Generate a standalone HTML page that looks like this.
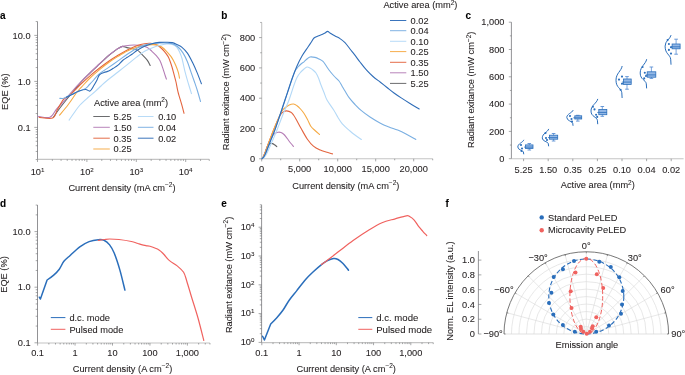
<!DOCTYPE html>
<html><head><meta charset="utf-8"><style>
html,body{margin:0;padding:0;background:#fff;overflow:hidden;}
svg{display:block;will-change:transform;}
text{font-family:"Liberation Sans",sans-serif;stroke:#231f20;stroke-width:0.08px;}
</style></head><body>
<svg width="685" height="375" viewBox="0 0 685 375">
<rect width="685" height="375" fill="#fff"/>
<text x="0.00" y="18.60" font-size="10" text-anchor="start" font-weight="bold" fill="#000" >a</text>
<line x1="37.50" y1="21.55" x2="37.50" y2="159.40" stroke="#6d6e71" stroke-width="0.75" />
<line x1="37.50" y1="159.40" x2="209.27" y2="159.40" stroke="#c4c4c4" stroke-width="1.1" />
<line x1="35.70" y1="159.55" x2="37.50" y2="159.55" stroke="#6d6e71" stroke-width="0.6" />
<line x1="35.70" y1="151.45" x2="37.50" y2="151.45" stroke="#6d6e71" stroke-width="0.6" />
<line x1="35.70" y1="145.71" x2="37.50" y2="145.71" stroke="#6d6e71" stroke-width="0.6" />
<line x1="35.70" y1="141.25" x2="37.50" y2="141.25" stroke="#6d6e71" stroke-width="0.6" />
<line x1="35.70" y1="137.61" x2="37.50" y2="137.61" stroke="#6d6e71" stroke-width="0.6" />
<line x1="35.70" y1="134.53" x2="37.50" y2="134.53" stroke="#6d6e71" stroke-width="0.6" />
<line x1="35.70" y1="131.86" x2="37.50" y2="131.86" stroke="#6d6e71" stroke-width="0.6" />
<line x1="35.70" y1="129.50" x2="37.50" y2="129.50" stroke="#6d6e71" stroke-width="0.6" />
<line x1="34.30" y1="127.40" x2="37.50" y2="127.40" stroke="#6d6e71" stroke-width="0.6" />
<line x1="35.70" y1="113.55" x2="37.50" y2="113.55" stroke="#6d6e71" stroke-width="0.6" />
<line x1="35.70" y1="105.45" x2="37.50" y2="105.45" stroke="#6d6e71" stroke-width="0.6" />
<line x1="35.70" y1="99.71" x2="37.50" y2="99.71" stroke="#6d6e71" stroke-width="0.6" />
<line x1="35.70" y1="95.25" x2="37.50" y2="95.25" stroke="#6d6e71" stroke-width="0.6" />
<line x1="35.70" y1="91.61" x2="37.50" y2="91.61" stroke="#6d6e71" stroke-width="0.6" />
<line x1="35.70" y1="88.53" x2="37.50" y2="88.53" stroke="#6d6e71" stroke-width="0.6" />
<line x1="35.70" y1="85.86" x2="37.50" y2="85.86" stroke="#6d6e71" stroke-width="0.6" />
<line x1="35.70" y1="83.50" x2="37.50" y2="83.50" stroke="#6d6e71" stroke-width="0.6" />
<line x1="34.30" y1="81.40" x2="37.50" y2="81.40" stroke="#6d6e71" stroke-width="0.6" />
<line x1="35.70" y1="67.55" x2="37.50" y2="67.55" stroke="#6d6e71" stroke-width="0.6" />
<line x1="35.70" y1="59.45" x2="37.50" y2="59.45" stroke="#6d6e71" stroke-width="0.6" />
<line x1="35.70" y1="53.71" x2="37.50" y2="53.71" stroke="#6d6e71" stroke-width="0.6" />
<line x1="35.70" y1="49.25" x2="37.50" y2="49.25" stroke="#6d6e71" stroke-width="0.6" />
<line x1="35.70" y1="45.61" x2="37.50" y2="45.61" stroke="#6d6e71" stroke-width="0.6" />
<line x1="35.70" y1="42.53" x2="37.50" y2="42.53" stroke="#6d6e71" stroke-width="0.6" />
<line x1="35.70" y1="39.86" x2="37.50" y2="39.86" stroke="#6d6e71" stroke-width="0.6" />
<line x1="35.70" y1="37.50" x2="37.50" y2="37.50" stroke="#6d6e71" stroke-width="0.6" />
<line x1="34.30" y1="35.40" x2="37.50" y2="35.40" stroke="#6d6e71" stroke-width="0.6" />
<line x1="35.70" y1="21.55" x2="37.50" y2="21.55" stroke="#6d6e71" stroke-width="0.6" />
<line x1="37.50" y1="159.40" x2="37.50" y2="162.00" stroke="#6d6e71" stroke-width="0.6" />
<line x1="52.37" y1="159.40" x2="52.37" y2="160.90" stroke="#6d6e71" stroke-width="0.6" />
<line x1="61.07" y1="159.40" x2="61.07" y2="160.90" stroke="#6d6e71" stroke-width="0.6" />
<line x1="67.24" y1="159.40" x2="67.24" y2="160.90" stroke="#6d6e71" stroke-width="0.6" />
<line x1="72.03" y1="159.40" x2="72.03" y2="160.90" stroke="#6d6e71" stroke-width="0.6" />
<line x1="75.94" y1="159.40" x2="75.94" y2="160.90" stroke="#6d6e71" stroke-width="0.6" />
<line x1="79.25" y1="159.40" x2="79.25" y2="160.90" stroke="#6d6e71" stroke-width="0.6" />
<line x1="82.11" y1="159.40" x2="82.11" y2="160.90" stroke="#6d6e71" stroke-width="0.6" />
<line x1="84.64" y1="159.40" x2="84.64" y2="160.90" stroke="#6d6e71" stroke-width="0.6" />
<line x1="86.90" y1="159.40" x2="86.90" y2="162.00" stroke="#6d6e71" stroke-width="0.6" />
<line x1="101.77" y1="159.40" x2="101.77" y2="160.90" stroke="#6d6e71" stroke-width="0.6" />
<line x1="110.47" y1="159.40" x2="110.47" y2="160.90" stroke="#6d6e71" stroke-width="0.6" />
<line x1="116.64" y1="159.40" x2="116.64" y2="160.90" stroke="#6d6e71" stroke-width="0.6" />
<line x1="121.43" y1="159.40" x2="121.43" y2="160.90" stroke="#6d6e71" stroke-width="0.6" />
<line x1="125.34" y1="159.40" x2="125.34" y2="160.90" stroke="#6d6e71" stroke-width="0.6" />
<line x1="128.65" y1="159.40" x2="128.65" y2="160.90" stroke="#6d6e71" stroke-width="0.6" />
<line x1="131.51" y1="159.40" x2="131.51" y2="160.90" stroke="#6d6e71" stroke-width="0.6" />
<line x1="134.04" y1="159.40" x2="134.04" y2="160.90" stroke="#6d6e71" stroke-width="0.6" />
<line x1="136.30" y1="159.40" x2="136.30" y2="162.00" stroke="#6d6e71" stroke-width="0.6" />
<line x1="151.17" y1="159.40" x2="151.17" y2="160.90" stroke="#6d6e71" stroke-width="0.6" />
<line x1="159.87" y1="159.40" x2="159.87" y2="160.90" stroke="#6d6e71" stroke-width="0.6" />
<line x1="166.04" y1="159.40" x2="166.04" y2="160.90" stroke="#6d6e71" stroke-width="0.6" />
<line x1="170.83" y1="159.40" x2="170.83" y2="160.90" stroke="#6d6e71" stroke-width="0.6" />
<line x1="174.74" y1="159.40" x2="174.74" y2="160.90" stroke="#6d6e71" stroke-width="0.6" />
<line x1="178.05" y1="159.40" x2="178.05" y2="160.90" stroke="#6d6e71" stroke-width="0.6" />
<line x1="180.91" y1="159.40" x2="180.91" y2="160.90" stroke="#6d6e71" stroke-width="0.6" />
<line x1="183.44" y1="159.40" x2="183.44" y2="160.90" stroke="#6d6e71" stroke-width="0.6" />
<line x1="185.70" y1="159.40" x2="185.70" y2="162.00" stroke="#6d6e71" stroke-width="0.6" />
<line x1="200.57" y1="159.40" x2="200.57" y2="160.90" stroke="#6d6e71" stroke-width="0.6" />
<line x1="209.27" y1="159.40" x2="209.27" y2="160.90" stroke="#6d6e71" stroke-width="0.6" />
<text x="30.60" y="38.60" font-size="9.25" text-anchor="end" font-weight="normal" fill="#231f20" >10.0</text>
<text x="30.60" y="84.60" font-size="9.25" text-anchor="end" font-weight="normal" fill="#231f20" >1.0</text>
<text x="30.60" y="130.60" font-size="9.25" text-anchor="end" font-weight="normal" fill="#231f20" >0.1</text>
<text x="37.50" y="174.60" font-size="9.25" text-anchor="middle" font-weight="normal" fill="#231f20" >10<tspan dy="-3.1" font-size="6.2">1</tspan></text>
<text x="86.90" y="174.60" font-size="9.25" text-anchor="middle" font-weight="normal" fill="#231f20" >10<tspan dy="-3.1" font-size="6.2">2</tspan></text>
<text x="136.30" y="174.60" font-size="9.25" text-anchor="middle" font-weight="normal" fill="#231f20" >10<tspan dy="-3.1" font-size="6.2">3</tspan></text>
<text x="185.70" y="174.60" font-size="9.25" text-anchor="middle" font-weight="normal" fill="#231f20" >10<tspan dy="-3.1" font-size="6.2">4</tspan></text>
<text x="0.00" y="0.00" font-size="9.25" text-anchor="middle" font-weight="normal" fill="#231f20" transform="translate(7.7,91.7) rotate(-90)">EQE (%)</text>
<text x="122.00" y="190.50" font-size="9.25" text-anchor="middle" font-weight="normal" fill="#231f20" >Current density (mA cm<tspan dy="-3.6" font-size="6.5">&#8722;2</tspan><tspan dy="3.6">)</tspan></text>
<path d="M53.20,117.50 C53.83,116.58 55.37,114.25 57.00,112.00 C58.63,109.75 60.17,107.58 63.00,104.00 C65.83,100.42 70.83,94.33 74.00,90.50 C77.17,86.67 79.33,83.92 82.00,81.00 C84.67,78.08 87.12,75.80 90.00,73.00 C92.88,70.20 96.97,66.40 99.30,64.20 C101.63,62.00 102.43,61.25 104.00,59.80 C105.57,58.35 106.98,56.93 108.70,55.50 C110.42,54.07 112.75,52.35 114.30,51.20 C115.85,50.05 116.65,49.40 118.00,48.60 C119.35,47.80 120.90,46.57 122.40,46.40 C123.90,46.23 125.25,47.20 127.00,47.60 C128.75,48.00 131.07,48.30 132.90,48.80 C134.73,49.30 136.53,49.70 138.00,50.60 C139.47,51.50 140.17,52.62 141.70,54.20 C143.23,55.78 145.78,58.23 147.20,60.10 C148.62,61.97 149.70,64.52 150.20,65.40" fill="none" stroke="#636466" stroke-width="1.1" stroke-linejoin="round" stroke-linecap="round" />
<path d="M37.80,116.30 C39.82,116.47 46.78,118.50 49.90,117.30 C53.02,116.10 54.32,111.63 56.50,109.10 C58.68,106.57 60.42,105.03 63.00,102.10 C65.58,99.17 68.83,95.07 72.00,91.50 C75.17,87.93 79.00,83.82 82.00,80.70 C85.00,77.58 87.12,75.58 90.00,72.80 C92.88,70.02 96.97,66.20 99.30,64.00 C101.63,61.80 102.43,61.05 104.00,59.60 C105.57,58.15 106.98,56.72 108.70,55.30 C110.42,53.88 112.75,52.22 114.30,51.10 C115.85,49.98 116.62,49.38 118.00,48.60 C119.38,47.82 120.62,46.97 122.60,46.40 C124.58,45.83 127.27,45.38 129.90,45.20 C132.53,45.02 135.58,44.95 138.40,45.30 C141.22,45.65 144.55,46.30 146.80,47.30 C149.05,48.30 150.32,49.90 151.90,51.30 C153.48,52.70 154.97,54.17 156.30,55.70 C157.63,57.23 158.82,58.43 159.90,60.50 C160.98,62.57 161.95,65.68 162.80,68.10 C163.65,70.52 164.40,73.17 165.00,75.00 C165.60,76.83 166.17,78.42 166.40,79.10" fill="none" stroke="#b57db6" stroke-width="1.1" stroke-linejoin="round" stroke-linecap="round" />
<path d="M39.20,117.40 C41.45,117.50 49.67,119.30 52.70,118.00 C55.73,116.70 55.60,112.72 57.40,109.60 C59.20,106.48 61.63,101.55 63.50,99.30 C65.37,97.05 66.82,97.50 68.60,96.10 C70.38,94.70 71.97,93.08 74.20,90.90 C76.43,88.72 79.37,85.52 82.00,83.00 C84.63,80.48 87.12,78.25 90.00,75.80 C92.88,73.35 96.18,70.72 99.30,68.30 C102.42,65.88 105.58,63.47 108.70,61.30 C111.82,59.13 114.90,57.20 118.00,55.30 C121.10,53.40 124.08,51.53 127.30,49.90 C130.52,48.27 134.42,46.53 137.30,45.50 C140.18,44.47 142.42,44.07 144.60,43.70 C146.78,43.33 148.45,43.12 150.40,43.30 C152.35,43.48 154.72,44.18 156.30,44.80 C157.88,45.42 158.57,45.92 159.90,47.00 C161.23,48.08 162.95,49.73 164.30,51.30 C165.65,52.87 167.08,54.87 168.00,56.40 C168.92,57.93 169.13,58.73 169.80,60.50 C170.47,62.27 171.38,65.02 172.00,67.00 C172.62,68.98 172.83,69.90 173.50,72.40 C174.17,74.90 175.25,78.77 176.00,82.00 C176.75,85.23 177.03,87.98 178.00,91.80 C178.97,95.62 180.80,101.32 181.80,104.90 C182.80,108.48 183.63,111.90 184.00,113.30" fill="none" stroke="#e3653f" stroke-width="1.1" stroke-linejoin="round" stroke-linecap="round" />
<path d="M59.50,115.20 C60.97,113.42 65.38,108.37 68.30,104.50 C71.22,100.63 74.77,94.95 77.00,92.00 C79.23,89.05 79.53,89.13 81.70,86.80 C83.87,84.47 87.07,80.83 90.00,78.00 C92.93,75.17 96.18,72.38 99.30,69.80 C102.42,67.22 105.58,64.73 108.70,62.50 C111.82,60.27 114.90,58.32 118.00,56.40 C121.10,54.48 124.20,52.52 127.30,51.00 C130.40,49.48 133.72,48.22 136.60,47.30 C139.48,46.38 142.05,45.95 144.60,45.50 C147.15,45.05 149.72,44.67 151.90,44.60 C154.08,44.53 156.00,44.65 157.70,45.10 C159.40,45.55 160.63,46.27 162.10,47.30 C163.57,48.33 165.03,49.78 166.50,51.30 C167.97,52.82 169.75,54.87 170.90,56.40 C172.05,57.93 172.55,58.90 173.40,60.50 C174.25,62.10 175.18,64.02 176.00,66.00 C176.82,67.98 177.72,70.38 178.30,72.40 C178.88,74.42 179.30,77.15 179.50,78.10" fill="none" stroke="#f5aa45" stroke-width="1.1" stroke-linejoin="round" stroke-linecap="round" />
<path d="M69.10,120.10 C69.92,118.92 72.18,115.52 74.00,113.00 C75.82,110.48 77.67,107.58 80.00,105.00 C82.33,102.42 85.50,99.72 88.00,97.50 C90.50,95.28 92.83,93.62 95.00,91.70 C97.17,89.78 98.88,87.95 101.00,86.00 C103.12,84.05 104.87,82.33 107.70,80.00 C110.53,77.67 114.73,74.57 118.00,72.00 C121.27,69.43 124.20,67.08 127.30,64.60 C130.40,62.12 133.72,59.32 136.60,57.10 C139.48,54.88 142.05,52.82 144.60,51.30 C147.15,49.78 149.47,48.97 151.90,48.00 C154.33,47.03 156.77,46.17 159.20,45.50 C161.63,44.83 164.32,44.18 166.50,44.00 C168.68,43.82 170.60,43.90 172.30,44.40 C174.00,44.90 175.48,45.72 176.70,47.00 C177.92,48.28 178.72,50.18 179.60,52.10 C180.48,54.02 181.07,55.12 182.00,58.50 C182.93,61.88 184.12,68.15 185.20,72.40 C186.28,76.65 187.45,80.47 188.50,84.00 C189.55,87.53 191.00,92.00 191.50,93.60" fill="none" stroke="#b4d9f7" stroke-width="1.1" stroke-linejoin="round" stroke-linecap="round" />
<path d="M59.70,98.30 C60.38,98.30 62.08,98.85 63.80,98.30 C65.52,97.75 67.47,96.18 70.00,95.00 C72.53,93.82 76.38,92.30 79.00,91.20 C81.62,90.10 83.95,89.52 85.70,88.40 C87.45,87.28 88.17,85.90 89.50,84.50 C90.83,83.10 92.07,81.77 93.70,80.00 C95.33,78.23 96.80,76.00 99.30,73.90 C101.80,71.80 105.58,69.57 108.70,67.40 C111.82,65.23 114.90,63.08 118.00,60.90 C121.10,58.72 124.08,56.45 127.30,54.30 C130.52,52.15 134.42,49.53 137.30,48.00 C140.18,46.47 142.17,45.85 144.60,45.10 C147.03,44.35 149.00,43.85 151.90,43.50 C154.80,43.15 158.75,43.00 162.00,43.00 C165.25,43.00 168.77,42.88 171.40,43.50 C174.03,44.12 175.85,45.10 177.80,46.70 C179.75,48.30 181.50,50.60 183.10,53.10 C184.70,55.60 186.07,58.48 187.40,61.70 C188.73,64.92 189.92,69.02 191.10,72.40 C192.28,75.78 193.43,78.90 194.50,82.00 C195.57,85.10 196.50,87.75 197.50,91.00 C198.50,94.25 200.00,99.75 200.50,101.50" fill="none" stroke="#7aafe2" stroke-width="1.1" stroke-linejoin="round" stroke-linecap="round" />
<path d="M66.50,97.30 C67.42,96.83 69.92,95.55 72.00,94.50 C74.08,93.45 76.72,91.83 79.00,91.00 C81.28,90.17 83.87,89.50 85.70,89.50 C87.53,89.50 88.67,91.62 90.00,91.00 C91.33,90.38 92.53,87.63 93.70,85.80 C94.87,83.97 96.07,81.80 97.00,80.00 C97.93,78.20 98.13,76.25 99.30,75.00 C100.47,73.75 102.43,73.15 104.00,72.50 C105.57,71.85 107.15,71.80 108.70,71.10 C110.25,70.40 111.75,69.30 113.30,68.30 C114.85,67.30 116.45,66.40 118.00,65.10 C119.55,63.80 121.05,61.80 122.60,60.50 C124.15,59.20 125.73,58.33 127.30,57.30 C128.87,56.27 130.33,55.48 132.00,54.30 C133.67,53.12 135.20,51.55 137.30,50.20 C139.40,48.85 142.17,47.28 144.60,46.20 C147.03,45.12 149.47,44.33 151.90,43.70 C154.33,43.07 156.77,42.65 159.20,42.40 C161.63,42.15 164.32,42.17 166.50,42.20 C168.68,42.23 170.48,42.17 172.30,42.60 C174.12,43.03 175.78,44.02 177.40,44.80 C179.02,45.58 180.33,45.92 182.00,47.30 C183.67,48.68 185.62,50.52 187.40,53.10 C189.18,55.68 191.10,59.58 192.70,62.80 C194.30,66.02 195.55,68.92 197.00,72.40 C198.45,75.88 200.67,81.82 201.40,83.70" fill="none" stroke="#2f6db8" stroke-width="1.1" stroke-linejoin="round" stroke-linecap="round" />
<text x="94.00" y="106.00" font-size="9.25" text-anchor="start" font-weight="normal" fill="#231f20" >Active area (mm<tspan dy="-3.6" font-size="6.5">2</tspan><tspan dy="3.6">)</tspan></text>
<line x1="93.30" y1="116.50" x2="109.80" y2="116.50" stroke="#636466" stroke-width="0.95" />
<text x="113.60" y="119.80" font-size="9.25" text-anchor="start" font-weight="normal" fill="#231f20" >5.25</text>
<line x1="93.30" y1="127.30" x2="109.80" y2="127.30" stroke="#b57db6" stroke-width="0.95" />
<text x="113.60" y="130.60" font-size="9.25" text-anchor="start" font-weight="normal" fill="#231f20" >1.50</text>
<line x1="93.30" y1="138.20" x2="109.80" y2="138.20" stroke="#e3653f" stroke-width="0.95" />
<text x="113.60" y="141.50" font-size="9.25" text-anchor="start" font-weight="normal" fill="#231f20" >0.35</text>
<line x1="93.30" y1="149.00" x2="109.80" y2="149.00" stroke="#f5aa45" stroke-width="0.95" />
<text x="113.60" y="152.30" font-size="9.25" text-anchor="start" font-weight="normal" fill="#231f20" >0.25</text>
<line x1="137.90" y1="116.50" x2="153.50" y2="116.50" stroke="#b4d9f7" stroke-width="0.95" />
<text x="158.20" y="119.80" font-size="9.25" text-anchor="start" font-weight="normal" fill="#231f20" >0.10</text>
<line x1="137.90" y1="127.30" x2="153.50" y2="127.30" stroke="#7aafe2" stroke-width="0.95" />
<text x="158.20" y="130.60" font-size="9.25" text-anchor="start" font-weight="normal" fill="#231f20" >0.04</text>
<line x1="137.90" y1="138.20" x2="153.50" y2="138.20" stroke="#2f6db8" stroke-width="0.95" />
<text x="158.20" y="141.50" font-size="9.25" text-anchor="start" font-weight="normal" fill="#231f20" >0.02</text>
<text x="221.30" y="19.00" font-size="10" text-anchor="start" font-weight="bold" fill="#000" >b</text>
<line x1="261.70" y1="22.45" x2="261.70" y2="158.80" stroke="#c4c4c4" stroke-width="1.1" />
<line x1="261.70" y1="158.80" x2="432.70" y2="158.80" stroke="#c4c4c4" stroke-width="1.1" />
<line x1="259.10" y1="158.80" x2="261.70" y2="158.80" stroke="#6d6e71" stroke-width="0.6" />
<line x1="260.20" y1="143.65" x2="261.70" y2="143.65" stroke="#6d6e71" stroke-width="0.6" />
<line x1="259.10" y1="128.50" x2="261.70" y2="128.50" stroke="#6d6e71" stroke-width="0.6" />
<line x1="260.20" y1="113.35" x2="261.70" y2="113.35" stroke="#6d6e71" stroke-width="0.6" />
<line x1="259.10" y1="98.20" x2="261.70" y2="98.20" stroke="#6d6e71" stroke-width="0.6" />
<line x1="260.20" y1="83.05" x2="261.70" y2="83.05" stroke="#6d6e71" stroke-width="0.6" />
<line x1="259.10" y1="67.90" x2="261.70" y2="67.90" stroke="#6d6e71" stroke-width="0.6" />
<line x1="260.20" y1="52.75" x2="261.70" y2="52.75" stroke="#6d6e71" stroke-width="0.6" />
<line x1="259.10" y1="37.60" x2="261.70" y2="37.60" stroke="#6d6e71" stroke-width="0.6" />
<line x1="260.20" y1="22.45" x2="261.70" y2="22.45" stroke="#6d6e71" stroke-width="0.6" />
<line x1="261.70" y1="158.80" x2="261.70" y2="161.40" stroke="#6d6e71" stroke-width="0.6" />
<line x1="280.70" y1="158.80" x2="280.70" y2="160.30" stroke="#6d6e71" stroke-width="0.6" />
<line x1="299.70" y1="158.80" x2="299.70" y2="161.40" stroke="#6d6e71" stroke-width="0.6" />
<line x1="318.70" y1="158.80" x2="318.70" y2="160.30" stroke="#6d6e71" stroke-width="0.6" />
<line x1="337.70" y1="158.80" x2="337.70" y2="161.40" stroke="#6d6e71" stroke-width="0.6" />
<line x1="356.70" y1="158.80" x2="356.70" y2="160.30" stroke="#6d6e71" stroke-width="0.6" />
<line x1="375.70" y1="158.80" x2="375.70" y2="161.40" stroke="#6d6e71" stroke-width="0.6" />
<line x1="394.70" y1="158.80" x2="394.70" y2="160.30" stroke="#6d6e71" stroke-width="0.6" />
<line x1="413.70" y1="158.80" x2="413.70" y2="161.40" stroke="#6d6e71" stroke-width="0.6" />
<line x1="432.70" y1="158.80" x2="432.70" y2="160.30" stroke="#6d6e71" stroke-width="0.6" />
<text x="255.20" y="162.00" font-size="9.25" text-anchor="end" font-weight="normal" fill="#231f20" >0</text>
<text x="255.20" y="131.70" font-size="9.25" text-anchor="end" font-weight="normal" fill="#231f20" >200</text>
<text x="255.20" y="101.40" font-size="9.25" text-anchor="end" font-weight="normal" fill="#231f20" >400</text>
<text x="255.20" y="71.10" font-size="9.25" text-anchor="end" font-weight="normal" fill="#231f20" >600</text>
<text x="255.20" y="40.80" font-size="9.25" text-anchor="end" font-weight="normal" fill="#231f20" >800</text>
<text x="261.70" y="172.30" font-size="9.25" text-anchor="middle" font-weight="normal" fill="#231f20" >0</text>
<text x="299.70" y="172.30" font-size="9.25" text-anchor="middle" font-weight="normal" fill="#231f20" >5,000</text>
<text x="337.70" y="172.30" font-size="9.25" text-anchor="middle" font-weight="normal" fill="#231f20" >10,000</text>
<text x="375.70" y="172.30" font-size="9.25" text-anchor="middle" font-weight="normal" fill="#231f20" >15,000</text>
<text x="413.70" y="172.30" font-size="9.25" text-anchor="middle" font-weight="normal" fill="#231f20" >20,000</text>
<text x="0.00" y="0.00" font-size="9.25" text-anchor="middle" font-weight="normal" fill="#231f20" transform="translate(229.3,92.1) rotate(-90)">Radiant exitance (mW cm<tspan dy="-3.6" font-size="6.5">&#8722;2</tspan><tspan dy="3.6">)</tspan></text>
<text x="345.80" y="188.50" font-size="9.25" text-anchor="middle" font-weight="normal" fill="#231f20" >Current density (mA cm<tspan dy="-3.6" font-size="6.5">&#8722;2</tspan><tspan dy="3.6">)</tspan></text>
<path d="M261.90,158.70 C262.13,158.42 262.78,157.95 263.30,157.00 C263.82,156.05 264.38,154.58 265.00,153.00 C265.62,151.42 266.37,148.87 267.00,147.50 C267.63,146.13 268.22,145.45 268.80,144.80 C269.38,144.15 269.88,143.80 270.50,143.60 C271.12,143.40 271.83,143.40 272.50,143.60 C273.17,143.80 273.78,144.30 274.50,144.80 C275.22,145.30 276.42,146.30 276.80,146.60" fill="none" stroke="#636466" stroke-width="1.1" stroke-linejoin="round" stroke-linecap="round" />
<path d="M261.90,158.70 C262.13,158.42 262.78,157.95 263.30,157.00 C263.82,156.05 264.30,154.83 265.00,153.00 C265.70,151.17 266.58,148.33 267.50,146.00 C268.42,143.67 269.58,140.83 270.50,139.00 C271.42,137.17 272.20,135.97 273.00,135.00 C273.80,134.03 274.40,133.67 275.30,133.20 C276.20,132.73 277.45,132.30 278.40,132.20 C279.35,132.10 280.07,132.22 281.00,132.60 C281.93,132.98 283.17,133.80 284.00,134.50 C284.83,135.20 285.28,135.88 286.00,136.80 C286.72,137.72 287.47,138.88 288.30,140.00 C289.13,141.12 290.13,142.43 291.00,143.50 C291.87,144.57 293.08,145.92 293.50,146.40" fill="none" stroke="#b57db6" stroke-width="1.1" stroke-linejoin="round" stroke-linecap="round" />
<path d="M261.90,158.70 C262.13,158.42 262.78,157.95 263.30,157.00 C263.82,156.05 264.30,154.83 265.00,153.00 C265.70,151.17 266.58,148.50 267.50,146.00 C268.42,143.50 269.42,140.83 270.50,138.00 C271.58,135.17 272.75,132.08 274.00,129.00 C275.25,125.92 276.83,122.00 278.00,119.50 C279.17,117.00 280.00,115.33 281.00,114.00 C282.00,112.67 283.07,112.02 284.00,111.50 C284.93,110.98 285.45,110.77 286.60,110.90 C287.75,111.03 289.75,111.62 290.90,112.30 C292.05,112.98 292.63,113.85 293.50,115.00 C294.37,116.15 294.80,116.90 296.10,119.20 C297.40,121.50 299.42,125.47 301.30,128.80 C303.18,132.13 305.38,136.32 307.40,139.20 C309.42,142.08 311.25,144.28 313.40,146.10 C315.55,147.92 318.20,149.12 320.30,150.10 C322.40,151.08 323.97,151.37 326.00,152.00 C328.03,152.63 331.42,153.58 332.50,153.90" fill="none" stroke="#e3653f" stroke-width="1.1" stroke-linejoin="round" stroke-linecap="round" />
<path d="M261.90,158.70 C262.13,158.42 262.78,157.95 263.30,157.00 C263.82,156.05 264.30,154.83 265.00,153.00 C265.70,151.17 266.58,148.50 267.50,146.00 C268.42,143.50 269.42,140.83 270.50,138.00 C271.58,135.17 272.75,132.08 274.00,129.00 C275.25,125.92 276.67,122.50 278.00,119.50 C279.33,116.50 280.87,112.92 282.00,111.00 C283.13,109.08 283.60,109.00 284.80,108.00 C286.00,107.00 287.75,105.67 289.20,105.00 C290.65,104.33 292.20,103.88 293.50,104.00 C294.80,104.12 295.83,104.87 297.00,105.70 C298.17,106.53 299.35,107.75 300.50,109.00 C301.65,110.25 302.73,111.45 303.90,113.20 C305.07,114.95 306.35,117.33 307.50,119.50 C308.65,121.67 309.55,124.37 310.80,126.20 C312.05,128.03 313.55,129.12 315.00,130.50 C316.45,131.88 318.75,133.83 319.50,134.50" fill="none" stroke="#f5aa45" stroke-width="1.1" stroke-linejoin="round" stroke-linecap="round" />
<path d="M261.90,158.70 C262.25,158.50 263.23,158.28 264.00,157.50 C264.77,156.72 265.58,155.67 266.50,154.00 C267.42,152.33 268.42,149.92 269.50,147.50 C270.58,145.08 271.75,142.42 273.00,139.50 C274.25,136.58 275.67,133.33 277.00,130.00 C278.33,126.67 279.67,122.92 281.00,119.50 C282.33,116.08 283.67,112.75 285.00,109.50 C286.33,106.25 287.50,104.08 289.00,100.00 C290.50,95.92 292.67,88.75 294.00,85.00 C295.33,81.25 296.00,79.50 297.00,77.50 C298.00,75.50 298.83,74.42 300.00,73.00 C301.17,71.58 302.83,70.00 304.00,69.00 C305.17,68.00 306.00,67.17 307.00,67.00 C308.00,66.83 309.00,67.50 310.00,68.00 C311.00,68.50 312.00,69.17 313.00,70.00 C314.00,70.83 315.08,71.67 316.00,73.00 C316.92,74.33 317.67,76.00 318.50,78.00 C319.33,80.00 320.08,82.58 321.00,85.00 C321.92,87.42 323.00,90.00 324.00,92.50 C325.00,95.00 325.38,97.08 327.00,100.00 C328.62,102.92 331.87,107.08 333.70,110.00 C335.53,112.92 336.57,115.18 338.00,117.50 C339.43,119.82 340.30,121.65 342.30,123.90 C344.30,126.15 347.88,129.15 350.00,131.00 C352.12,132.85 353.10,133.58 355.00,135.00 C356.90,136.42 360.33,138.75 361.40,139.50" fill="none" stroke="#b4d9f7" stroke-width="1.1" stroke-linejoin="round" stroke-linecap="round" />
<path d="M261.90,158.70 C262.17,158.47 262.90,158.15 263.50,157.30 C264.10,156.45 264.75,155.28 265.50,153.60 C266.25,151.92 267.08,149.53 268.00,147.20 C268.92,144.87 269.83,142.53 271.00,139.60 C272.17,136.67 273.50,133.70 275.00,129.60 C276.50,125.50 278.33,119.93 280.00,115.00 C281.67,110.07 283.58,104.25 285.00,100.00 C286.42,95.75 287.33,93.00 288.50,89.50 C289.67,86.00 290.92,82.08 292.00,79.00 C293.08,75.92 294.00,73.00 295.00,71.00 C296.00,69.00 297.00,68.17 298.00,67.00 C299.00,65.83 300.00,64.87 301.00,64.00 C302.00,63.13 303.00,62.63 304.00,61.80 C305.00,60.97 306.00,59.80 307.00,59.00 C308.00,58.20 308.67,57.27 310.00,57.00 C311.33,56.73 313.50,57.07 315.00,57.40 C316.50,57.73 317.67,58.33 319.00,59.00 C320.33,59.67 321.83,60.32 323.00,61.40 C324.17,62.48 325.00,64.07 326.00,65.50 C327.00,66.93 327.67,68.25 329.00,70.00 C330.33,71.75 332.33,74.17 334.00,76.00 C335.67,77.83 337.67,79.33 339.00,81.00 C340.33,82.67 341.00,84.33 342.00,86.00 C343.00,87.67 343.78,89.02 345.00,91.00 C346.22,92.98 347.63,95.65 349.30,97.90 C350.97,100.15 352.98,102.37 355.00,104.50 C357.02,106.63 358.90,108.62 361.40,110.70 C363.90,112.78 366.83,114.92 370.00,117.00 C373.17,119.08 377.23,121.53 380.40,123.20 C383.57,124.87 386.12,125.85 389.00,127.00 C391.88,128.15 394.87,128.93 397.70,130.10 C400.53,131.27 402.98,132.43 406.00,134.00 C409.02,135.57 414.17,138.58 415.80,139.50" fill="none" stroke="#7aafe2" stroke-width="1.1" stroke-linejoin="round" stroke-linecap="round" />
<path d="M261.90,158.70 C262.17,158.47 262.90,158.15 263.50,157.30 C264.10,156.45 264.75,155.28 265.50,153.60 C266.25,151.92 267.08,149.53 268.00,147.20 C268.92,144.87 269.83,142.53 271.00,139.60 C272.17,136.67 273.50,133.70 275.00,129.60 C276.50,125.50 278.33,119.93 280.00,115.00 C281.67,110.07 283.58,104.25 285.00,100.00 C286.42,95.75 287.33,93.00 288.50,89.50 C289.67,86.00 290.58,82.92 292.00,79.00 C293.42,75.08 295.33,69.83 297.00,66.00 C298.67,62.17 300.17,59.17 302.00,56.00 C303.83,52.83 306.50,49.25 308.00,47.00 C309.50,44.75 310.00,44.00 311.00,42.50 C312.00,41.00 312.83,39.08 314.00,38.00 C315.17,36.92 316.67,36.57 318.00,36.00 C319.33,35.43 320.83,35.10 322.00,34.60 C323.17,34.10 324.07,33.53 325.00,33.00 C325.93,32.47 326.77,31.40 327.60,31.40 C328.43,31.40 329.20,32.47 330.00,33.00 C330.80,33.53 331.40,34.02 332.40,34.60 C333.40,35.18 334.73,35.83 336.00,36.50 C337.27,37.17 338.50,37.58 340.00,38.60 C341.50,39.62 343.33,40.87 345.00,42.60 C346.67,44.33 348.42,47.00 350.00,49.00 C351.58,51.00 352.83,52.43 354.50,54.60 C356.17,56.77 357.98,59.40 360.00,62.00 C362.02,64.60 364.43,67.78 366.60,70.20 C368.77,72.62 370.70,74.48 373.00,76.50 C375.30,78.52 378.07,80.47 380.40,82.30 C382.73,84.13 384.73,85.72 387.00,87.50 C389.27,89.28 391.63,91.27 394.00,93.00 C396.37,94.73 398.53,96.15 401.20,97.90 C403.87,99.65 407.00,101.65 410.00,103.50 C413.00,105.35 417.67,108.08 419.20,109.00" fill="none" stroke="#2f6db8" stroke-width="1.1" stroke-linejoin="round" stroke-linecap="round" />
<text x="383.40" y="8.40" font-size="9.25" text-anchor="start" font-weight="normal" fill="#231f20" >Active area (mm<tspan dy="-3.6" font-size="6.5">2</tspan><tspan dy="3.6">)</tspan></text>
<line x1="390.00" y1="20.50" x2="406.30" y2="20.50" stroke="#2f6db8" stroke-width="0.95" />
<text x="410.60" y="23.80" font-size="9.25" text-anchor="start" font-weight="normal" fill="#231f20" >0.02</text>
<line x1="390.00" y1="30.70" x2="406.30" y2="30.70" stroke="#7aafe2" stroke-width="0.95" />
<text x="410.60" y="34.00" font-size="9.25" text-anchor="start" font-weight="normal" fill="#231f20" >0.04</text>
<line x1="390.00" y1="41.30" x2="406.30" y2="41.30" stroke="#b4d9f7" stroke-width="0.95" />
<text x="410.60" y="44.60" font-size="9.25" text-anchor="start" font-weight="normal" fill="#231f20" >0.10</text>
<line x1="390.00" y1="51.60" x2="406.30" y2="51.60" stroke="#f5aa45" stroke-width="0.95" />
<text x="410.60" y="54.90" font-size="9.25" text-anchor="start" font-weight="normal" fill="#231f20" >0.25</text>
<line x1="390.00" y1="62.30" x2="406.30" y2="62.30" stroke="#e3653f" stroke-width="0.95" />
<text x="410.60" y="65.60" font-size="9.25" text-anchor="start" font-weight="normal" fill="#231f20" >0.35</text>
<line x1="390.00" y1="72.80" x2="406.30" y2="72.80" stroke="#b57db6" stroke-width="0.95" />
<text x="410.60" y="76.10" font-size="9.25" text-anchor="start" font-weight="normal" fill="#231f20" >1.50</text>
<line x1="390.00" y1="83.40" x2="406.30" y2="83.40" stroke="#636466" stroke-width="0.95" />
<text x="410.60" y="86.70" font-size="9.25" text-anchor="start" font-weight="normal" fill="#231f20" >5.25</text>
<text x="465.60" y="18.60" font-size="10" text-anchor="start" font-weight="bold" fill="#000" >c</text>
<line x1="511.40" y1="22.20" x2="511.40" y2="158.80" stroke="#6d6e71" stroke-width="0.75" />
<line x1="511.40" y1="158.80" x2="683.60" y2="158.80" stroke="#c4c4c4" stroke-width="1.1" />
<line x1="508.80" y1="158.70" x2="511.40" y2="158.70" stroke="#6d6e71" stroke-width="0.6" />
<line x1="509.90" y1="145.05" x2="511.40" y2="145.05" stroke="#6d6e71" stroke-width="0.6" />
<line x1="508.80" y1="131.40" x2="511.40" y2="131.40" stroke="#6d6e71" stroke-width="0.6" />
<line x1="509.90" y1="117.75" x2="511.40" y2="117.75" stroke="#6d6e71" stroke-width="0.6" />
<line x1="508.80" y1="104.10" x2="511.40" y2="104.10" stroke="#6d6e71" stroke-width="0.6" />
<line x1="509.90" y1="90.45" x2="511.40" y2="90.45" stroke="#6d6e71" stroke-width="0.6" />
<line x1="508.80" y1="76.80" x2="511.40" y2="76.80" stroke="#6d6e71" stroke-width="0.6" />
<line x1="509.90" y1="63.15" x2="511.40" y2="63.15" stroke="#6d6e71" stroke-width="0.6" />
<line x1="508.80" y1="49.50" x2="511.40" y2="49.50" stroke="#6d6e71" stroke-width="0.6" />
<line x1="509.90" y1="35.85" x2="511.40" y2="35.85" stroke="#6d6e71" stroke-width="0.6" />
<line x1="508.80" y1="22.20" x2="511.40" y2="22.20" stroke="#6d6e71" stroke-width="0.6" />
<text x="504.50" y="161.90" font-size="9.25" text-anchor="end" font-weight="normal" fill="#231f20" >0</text>
<text x="504.50" y="134.60" font-size="9.25" text-anchor="end" font-weight="normal" fill="#231f20" >200</text>
<text x="504.50" y="107.30" font-size="9.25" text-anchor="end" font-weight="normal" fill="#231f20" >400</text>
<text x="504.50" y="80.00" font-size="9.25" text-anchor="end" font-weight="normal" fill="#231f20" >600</text>
<text x="504.50" y="52.70" font-size="9.25" text-anchor="end" font-weight="normal" fill="#231f20" >800</text>
<text x="504.50" y="25.40" font-size="9.25" text-anchor="end" font-weight="normal" fill="#231f20" >1,000</text>
<line x1="523.60" y1="158.80" x2="523.60" y2="161.20" stroke="#6d6e71" stroke-width="0.6" />
<text x="523.60" y="173.30" font-size="9.25" text-anchor="middle" font-weight="normal" fill="#231f20" >5.25</text>
<line x1="548.20" y1="158.80" x2="548.20" y2="161.20" stroke="#6d6e71" stroke-width="0.6" />
<text x="548.20" y="173.30" font-size="9.25" text-anchor="middle" font-weight="normal" fill="#231f20" >1.50</text>
<line x1="572.80" y1="158.80" x2="572.80" y2="161.20" stroke="#6d6e71" stroke-width="0.6" />
<text x="572.80" y="173.30" font-size="9.25" text-anchor="middle" font-weight="normal" fill="#231f20" >0.35</text>
<line x1="597.40" y1="158.80" x2="597.40" y2="161.20" stroke="#6d6e71" stroke-width="0.6" />
<text x="597.40" y="173.30" font-size="9.25" text-anchor="middle" font-weight="normal" fill="#231f20" >0.25</text>
<line x1="622.00" y1="158.80" x2="622.00" y2="161.20" stroke="#6d6e71" stroke-width="0.6" />
<text x="622.00" y="173.30" font-size="9.25" text-anchor="middle" font-weight="normal" fill="#231f20" >0.10</text>
<line x1="646.60" y1="158.80" x2="646.60" y2="161.20" stroke="#6d6e71" stroke-width="0.6" />
<text x="646.60" y="173.30" font-size="9.25" text-anchor="middle" font-weight="normal" fill="#231f20" >0.04</text>
<line x1="671.20" y1="158.80" x2="671.20" y2="161.20" stroke="#6d6e71" stroke-width="0.6" />
<text x="671.20" y="173.30" font-size="9.25" text-anchor="middle" font-weight="normal" fill="#231f20" >0.02</text>
<text x="597.80" y="188.10" font-size="9.25" text-anchor="middle" font-weight="normal" fill="#231f20" >Active area (mm<tspan dy="-3.6" font-size="6.5">2</tspan><tspan dy="3.6">)</tspan></text>
<text x="0.00" y="0.00" font-size="9.25" text-anchor="middle" font-weight="normal" fill="#231f20" transform="translate(474.2,89.8) rotate(-90)">Radiant exitance (mW cm<tspan dy="-3.6" font-size="6.5">&#8722;2</tspan><tspan dy="3.6">)</tspan></text>
<path d="M523.70,140.20 C522.84,142.58 517.80,143.60 517.80,147.00 C517.80,150.10 522.84,150.10 523.40,151.97 L523.70,153.90" fill="none" stroke="#2a6ebb" stroke-width="1.0" stroke-linecap="round"/>
<line x1="529.30" y1="143.50" x2="529.30" y2="150.00" stroke="#5a8fd4" stroke-width="0.8" />
<line x1="527.50" y1="143.50" x2="531.10" y2="143.50" stroke="#5a8fd4" stroke-width="0.9" />
<line x1="527.50" y1="150.00" x2="531.10" y2="150.00" stroke="#5a8fd4" stroke-width="0.9" />
<rect x="525.60" y="144.90" width="7.40" height="3.60" fill="#94b8e6" stroke="#2a6ebb" stroke-width="0.8"/>
<line x1="524.10" y1="147.10" x2="533.00" y2="147.10" stroke="#2a6ebb" stroke-width="0.8" />
<circle cx="521.00" cy="145.00" r="1.05" fill="#2a6ebb"/>
<circle cx="522.00" cy="148.50" r="1.05" fill="#2a6ebb"/>
<circle cx="521.50" cy="151.00" r="1.05" fill="#2a6ebb"/>
<path d="M548.60,129.30 C547.70,132.28 542.30,133.55 542.30,137.80 C542.30,141.45 547.70,141.45 548.30,143.63 L548.60,145.90" fill="none" stroke="#2a6ebb" stroke-width="1.0" stroke-linecap="round"/>
<line x1="553.60" y1="133.50" x2="553.60" y2="141.00" stroke="#5a8fd4" stroke-width="0.8" />
<line x1="551.80" y1="133.50" x2="555.40" y2="133.50" stroke="#5a8fd4" stroke-width="0.9" />
<line x1="551.80" y1="141.00" x2="555.40" y2="141.00" stroke="#5a8fd4" stroke-width="0.9" />
<rect x="549.50" y="135.20" width="8.20" height="4.00" fill="#94b8e6" stroke="#2a6ebb" stroke-width="0.8"/>
<line x1="548.00" y1="137.60" x2="557.70" y2="137.60" stroke="#2a6ebb" stroke-width="0.8" />
<circle cx="545.50" cy="133.00" r="1.05" fill="#2a6ebb"/>
<circle cx="546.00" cy="138.00" r="1.05" fill="#2a6ebb"/>
<circle cx="547.00" cy="140.00" r="1.05" fill="#2a6ebb"/>
<path d="M573.00,110.50 C572.11,112.92 566.80,113.95 566.80,117.40 C566.80,121.00 572.11,121.00 572.70,123.16 L573.00,125.40" fill="none" stroke="#2a6ebb" stroke-width="1.0" stroke-linecap="round"/>
<line x1="577.80" y1="115.30" x2="577.80" y2="121.10" stroke="#5a8fd4" stroke-width="0.8" />
<line x1="576.00" y1="115.30" x2="579.60" y2="115.30" stroke="#5a8fd4" stroke-width="0.9" />
<line x1="576.00" y1="121.10" x2="579.60" y2="121.10" stroke="#5a8fd4" stroke-width="0.9" />
<rect x="574.80" y="115.80" width="6.90" height="3.20" fill="#94b8e6" stroke="#2a6ebb" stroke-width="0.8"/>
<line x1="573.30" y1="117.80" x2="581.70" y2="117.80" stroke="#2a6ebb" stroke-width="0.8" />
<circle cx="570.00" cy="116.00" r="1.05" fill="#2a6ebb"/>
<circle cx="571.50" cy="119.00" r="1.05" fill="#2a6ebb"/>
<circle cx="572.00" cy="121.50" r="1.05" fill="#2a6ebb"/>
<path d="M597.70,99.30 C596.76,103.39 591.00,105.15 591.00,111.00 C591.00,116.76 596.76,116.76 597.40,120.22 L597.70,123.80" fill="none" stroke="#2a6ebb" stroke-width="1.0" stroke-linecap="round"/>
<line x1="602.30" y1="106.50" x2="602.30" y2="116.30" stroke="#5a8fd4" stroke-width="0.8" />
<line x1="600.50" y1="106.50" x2="604.10" y2="106.50" stroke="#5a8fd4" stroke-width="0.9" />
<line x1="600.50" y1="116.30" x2="604.10" y2="116.30" stroke="#5a8fd4" stroke-width="0.9" />
<rect x="598.80" y="109.40" width="8.00" height="5.30" fill="#94b8e6" stroke="#2a6ebb" stroke-width="0.8"/>
<line x1="597.30" y1="112.45" x2="606.80" y2="112.45" stroke="#2a6ebb" stroke-width="0.8" />
<circle cx="592.90" cy="106.70" r="1.05" fill="#2a6ebb"/>
<circle cx="594.50" cy="109.40" r="1.05" fill="#2a6ebb"/>
<circle cx="596.10" cy="114.70" r="1.05" fill="#2a6ebb"/>
<circle cx="597.20" cy="116.90" r="1.05" fill="#2a6ebb"/>
<path d="M622.10,66.40 C621.22,71.23 616.00,73.30 616.00,80.20 C616.00,88.03 621.22,88.03 621.80,92.73 L622.10,97.60" fill="none" stroke="#2a6ebb" stroke-width="1.0" stroke-linecap="round"/>
<line x1="627.00" y1="76.60" x2="627.00" y2="89.20" stroke="#5a8fd4" stroke-width="0.8" />
<line x1="625.20" y1="76.60" x2="628.80" y2="76.60" stroke="#5a8fd4" stroke-width="0.9" />
<line x1="625.20" y1="89.20" x2="628.80" y2="89.20" stroke="#5a8fd4" stroke-width="0.9" />
<rect x="623.40" y="79.00" width="7.80" height="5.40" fill="#94b8e6" stroke="#2a6ebb" stroke-width="0.8"/>
<line x1="621.90" y1="82.10" x2="631.20" y2="82.10" stroke="#2a6ebb" stroke-width="0.8" />
<circle cx="622.00" cy="76.60" r="1.05" fill="#2a6ebb"/>
<circle cx="619.00" cy="79.60" r="1.05" fill="#2a6ebb"/>
<circle cx="622.00" cy="83.80" r="1.05" fill="#2a6ebb"/>
<circle cx="620.60" cy="89.80" r="1.05" fill="#2a6ebb"/>
<path d="M646.60,59.60 C645.69,64.29 640.20,66.30 640.20,73.00 C640.20,79.75 645.69,79.75 646.30,83.80 L646.60,88.00" fill="none" stroke="#2a6ebb" stroke-width="1.0" stroke-linecap="round"/>
<line x1="651.40" y1="67.00" x2="651.40" y2="78.40" stroke="#5a8fd4" stroke-width="0.8" />
<line x1="649.60" y1="67.00" x2="653.20" y2="67.00" stroke="#5a8fd4" stroke-width="0.9" />
<line x1="649.60" y1="78.40" x2="653.20" y2="78.40" stroke="#5a8fd4" stroke-width="0.9" />
<rect x="647.20" y="71.80" width="8.60" height="5.40" fill="#94b8e6" stroke="#2a6ebb" stroke-width="0.8"/>
<line x1="645.70" y1="74.90" x2="655.80" y2="74.90" stroke="#2a6ebb" stroke-width="0.8" />
<circle cx="642.60" cy="67.00" r="1.05" fill="#2a6ebb"/>
<circle cx="644.80" cy="72.70" r="1.05" fill="#2a6ebb"/>
<circle cx="646.00" cy="76.00" r="1.05" fill="#2a6ebb"/>
<circle cx="644.20" cy="78.40" r="1.05" fill="#2a6ebb"/>
<path d="M671.00,35.50 C670.14,39.21 665.10,40.80 665.10,46.10 C665.10,54.29 670.14,54.29 670.70,59.20 L671.00,64.30" fill="none" stroke="#2a6ebb" stroke-width="1.0" stroke-linecap="round"/>
<line x1="676.10" y1="39.20" x2="676.10" y2="54.20" stroke="#5a8fd4" stroke-width="0.8" />
<line x1="674.30" y1="39.20" x2="677.90" y2="39.20" stroke="#5a8fd4" stroke-width="0.9" />
<line x1="674.30" y1="54.20" x2="677.90" y2="54.20" stroke="#5a8fd4" stroke-width="0.9" />
<rect x="672.10" y="44.00" width="8.00" height="4.80" fill="#94b8e6" stroke="#2a6ebb" stroke-width="0.8"/>
<line x1="670.60" y1="46.80" x2="680.10" y2="46.80" stroke="#2a6ebb" stroke-width="0.8" />
<circle cx="667.60" cy="40.00" r="1.05" fill="#2a6ebb"/>
<circle cx="668.90" cy="44.00" r="1.05" fill="#2a6ebb"/>
<circle cx="668.90" cy="49.90" r="1.05" fill="#2a6ebb"/>
<circle cx="671.00" cy="53.60" r="1.05" fill="#2a6ebb"/>
<circle cx="671.00" cy="47.20" r="1.05" fill="#2a6ebb"/>
<text x="0.00" y="206.90" font-size="10" text-anchor="start" font-weight="bold" fill="#000" >d</text>
<line x1="37.50" y1="205.07" x2="37.50" y2="343.00" stroke="#6d6e71" stroke-width="0.75" />
<line x1="37.50" y1="343.00" x2="209.95" y2="343.00" stroke="#c4c4c4" stroke-width="1.1" />
<line x1="34.50" y1="342.80" x2="37.50" y2="342.80" stroke="#6d6e71" stroke-width="0.6" />
<line x1="35.70" y1="326.06" x2="37.50" y2="326.06" stroke="#6d6e71" stroke-width="0.6" />
<line x1="35.70" y1="316.27" x2="37.50" y2="316.27" stroke="#6d6e71" stroke-width="0.6" />
<line x1="35.70" y1="309.33" x2="37.50" y2="309.33" stroke="#6d6e71" stroke-width="0.6" />
<line x1="35.70" y1="303.94" x2="37.50" y2="303.94" stroke="#6d6e71" stroke-width="0.6" />
<line x1="35.70" y1="299.53" x2="37.50" y2="299.53" stroke="#6d6e71" stroke-width="0.6" />
<line x1="35.70" y1="295.81" x2="37.50" y2="295.81" stroke="#6d6e71" stroke-width="0.6" />
<line x1="35.70" y1="292.59" x2="37.50" y2="292.59" stroke="#6d6e71" stroke-width="0.6" />
<line x1="35.70" y1="289.74" x2="37.50" y2="289.74" stroke="#6d6e71" stroke-width="0.6" />
<line x1="34.50" y1="287.20" x2="37.50" y2="287.20" stroke="#6d6e71" stroke-width="0.6" />
<line x1="35.70" y1="270.46" x2="37.50" y2="270.46" stroke="#6d6e71" stroke-width="0.6" />
<line x1="35.70" y1="260.67" x2="37.50" y2="260.67" stroke="#6d6e71" stroke-width="0.6" />
<line x1="35.70" y1="253.73" x2="37.50" y2="253.73" stroke="#6d6e71" stroke-width="0.6" />
<line x1="35.70" y1="248.34" x2="37.50" y2="248.34" stroke="#6d6e71" stroke-width="0.6" />
<line x1="35.70" y1="243.93" x2="37.50" y2="243.93" stroke="#6d6e71" stroke-width="0.6" />
<line x1="35.70" y1="240.21" x2="37.50" y2="240.21" stroke="#6d6e71" stroke-width="0.6" />
<line x1="35.70" y1="236.99" x2="37.50" y2="236.99" stroke="#6d6e71" stroke-width="0.6" />
<line x1="35.70" y1="234.14" x2="37.50" y2="234.14" stroke="#6d6e71" stroke-width="0.6" />
<line x1="34.50" y1="231.60" x2="37.50" y2="231.60" stroke="#6d6e71" stroke-width="0.6" />
<line x1="35.70" y1="214.86" x2="37.50" y2="214.86" stroke="#6d6e71" stroke-width="0.6" />
<line x1="35.70" y1="205.07" x2="37.50" y2="205.07" stroke="#6d6e71" stroke-width="0.6" />
<line x1="37.60" y1="343.00" x2="37.60" y2="345.60" stroke="#6d6e71" stroke-width="0.6" />
<line x1="48.87" y1="343.00" x2="48.87" y2="344.50" stroke="#6d6e71" stroke-width="0.6" />
<line x1="55.47" y1="343.00" x2="55.47" y2="344.50" stroke="#6d6e71" stroke-width="0.6" />
<line x1="60.15" y1="343.00" x2="60.15" y2="344.50" stroke="#6d6e71" stroke-width="0.6" />
<line x1="63.78" y1="343.00" x2="63.78" y2="344.50" stroke="#6d6e71" stroke-width="0.6" />
<line x1="66.74" y1="343.00" x2="66.74" y2="344.50" stroke="#6d6e71" stroke-width="0.6" />
<line x1="69.25" y1="343.00" x2="69.25" y2="344.50" stroke="#6d6e71" stroke-width="0.6" />
<line x1="71.42" y1="343.00" x2="71.42" y2="344.50" stroke="#6d6e71" stroke-width="0.6" />
<line x1="73.34" y1="343.00" x2="73.34" y2="344.50" stroke="#6d6e71" stroke-width="0.6" />
<line x1="75.05" y1="343.00" x2="75.05" y2="345.60" stroke="#6d6e71" stroke-width="0.6" />
<line x1="86.32" y1="343.00" x2="86.32" y2="344.50" stroke="#6d6e71" stroke-width="0.6" />
<line x1="92.92" y1="343.00" x2="92.92" y2="344.50" stroke="#6d6e71" stroke-width="0.6" />
<line x1="97.60" y1="343.00" x2="97.60" y2="344.50" stroke="#6d6e71" stroke-width="0.6" />
<line x1="101.23" y1="343.00" x2="101.23" y2="344.50" stroke="#6d6e71" stroke-width="0.6" />
<line x1="104.19" y1="343.00" x2="104.19" y2="344.50" stroke="#6d6e71" stroke-width="0.6" />
<line x1="106.70" y1="343.00" x2="106.70" y2="344.50" stroke="#6d6e71" stroke-width="0.6" />
<line x1="108.87" y1="343.00" x2="108.87" y2="344.50" stroke="#6d6e71" stroke-width="0.6" />
<line x1="110.79" y1="343.00" x2="110.79" y2="344.50" stroke="#6d6e71" stroke-width="0.6" />
<line x1="112.50" y1="343.00" x2="112.50" y2="345.60" stroke="#6d6e71" stroke-width="0.6" />
<line x1="123.77" y1="343.00" x2="123.77" y2="344.50" stroke="#6d6e71" stroke-width="0.6" />
<line x1="130.37" y1="343.00" x2="130.37" y2="344.50" stroke="#6d6e71" stroke-width="0.6" />
<line x1="135.05" y1="343.00" x2="135.05" y2="344.50" stroke="#6d6e71" stroke-width="0.6" />
<line x1="138.68" y1="343.00" x2="138.68" y2="344.50" stroke="#6d6e71" stroke-width="0.6" />
<line x1="141.64" y1="343.00" x2="141.64" y2="344.50" stroke="#6d6e71" stroke-width="0.6" />
<line x1="144.15" y1="343.00" x2="144.15" y2="344.50" stroke="#6d6e71" stroke-width="0.6" />
<line x1="146.32" y1="343.00" x2="146.32" y2="344.50" stroke="#6d6e71" stroke-width="0.6" />
<line x1="148.24" y1="343.00" x2="148.24" y2="344.50" stroke="#6d6e71" stroke-width="0.6" />
<line x1="149.95" y1="343.00" x2="149.95" y2="345.60" stroke="#6d6e71" stroke-width="0.6" />
<line x1="161.22" y1="343.00" x2="161.22" y2="344.50" stroke="#6d6e71" stroke-width="0.6" />
<line x1="167.82" y1="343.00" x2="167.82" y2="344.50" stroke="#6d6e71" stroke-width="0.6" />
<line x1="172.50" y1="343.00" x2="172.50" y2="344.50" stroke="#6d6e71" stroke-width="0.6" />
<line x1="176.13" y1="343.00" x2="176.13" y2="344.50" stroke="#6d6e71" stroke-width="0.6" />
<line x1="179.09" y1="343.00" x2="179.09" y2="344.50" stroke="#6d6e71" stroke-width="0.6" />
<line x1="181.60" y1="343.00" x2="181.60" y2="344.50" stroke="#6d6e71" stroke-width="0.6" />
<line x1="183.77" y1="343.00" x2="183.77" y2="344.50" stroke="#6d6e71" stroke-width="0.6" />
<line x1="185.69" y1="343.00" x2="185.69" y2="344.50" stroke="#6d6e71" stroke-width="0.6" />
<line x1="187.40" y1="343.00" x2="187.40" y2="345.60" stroke="#6d6e71" stroke-width="0.6" />
<line x1="198.67" y1="343.00" x2="198.67" y2="344.50" stroke="#6d6e71" stroke-width="0.6" />
<line x1="205.27" y1="343.00" x2="205.27" y2="344.50" stroke="#6d6e71" stroke-width="0.6" />
<line x1="209.95" y1="343.00" x2="209.95" y2="344.50" stroke="#6d6e71" stroke-width="0.6" />
<text x="30.60" y="234.80" font-size="9.25" text-anchor="end" font-weight="normal" fill="#231f20" >10.0</text>
<text x="30.60" y="290.40" font-size="9.25" text-anchor="end" font-weight="normal" fill="#231f20" >1.0</text>
<text x="30.60" y="346.00" font-size="9.25" text-anchor="end" font-weight="normal" fill="#231f20" >0.1</text>
<text x="37.60" y="356.00" font-size="9.25" text-anchor="middle" font-weight="normal" fill="#231f20" >0.1</text>
<text x="75.05" y="356.00" font-size="9.25" text-anchor="middle" font-weight="normal" fill="#231f20" >1</text>
<text x="112.50" y="356.00" font-size="9.25" text-anchor="middle" font-weight="normal" fill="#231f20" >10</text>
<text x="149.95" y="356.00" font-size="9.25" text-anchor="middle" font-weight="normal" fill="#231f20" >100</text>
<text x="187.40" y="356.00" font-size="9.25" text-anchor="middle" font-weight="normal" fill="#231f20" >1,000</text>
<text x="122.50" y="371.50" font-size="9.25" text-anchor="middle" font-weight="normal" fill="#231f20" >Current density (A cm<tspan dy="-3.6" font-size="6.5">&#8722;2</tspan><tspan dy="3.6">)</tspan></text>
<text x="0.00" y="0.00" font-size="9.25" text-anchor="middle" font-weight="normal" fill="#231f20" transform="translate(6.9,274.5) rotate(-90)">EQE (%)</text>
<path d="M39.30,297.20 C39.30,297.20 40.40,299.00 40.40,299.00 C40.40,299.00 47.10,280.00 47.10,280.00 C47.10,280.00 51.67,276.90 53.70,275.10 C55.73,273.30 57.60,271.50 59.30,269.20 C61.00,266.90 62.05,263.63 63.90,261.30 C65.75,258.97 67.75,257.62 70.40,255.20 C73.05,252.78 76.68,249.07 79.80,246.80 C82.92,244.53 86.00,242.78 89.10,241.60 C92.20,240.42 95.92,239.92 98.40,239.70 C100.88,239.48 102.13,239.43 104.00,240.30 C105.87,241.17 107.88,242.73 109.60,244.90 C111.32,247.07 112.58,249.10 114.30,253.30 C116.02,257.50 118.13,263.97 119.90,270.10 C121.67,276.23 124.07,286.77 124.90,290.10" fill="none" stroke="#2a6ebb" stroke-width="1.5" stroke-linejoin="round" stroke-linecap="round" />
<path d="M98.40,240.30 C99.42,240.17 102.63,239.72 104.50,239.50 C106.37,239.28 107.18,239.00 109.60,239.00 C112.02,239.00 115.37,239.08 119.00,239.50 C122.63,239.92 128.23,240.83 131.40,241.50 C134.57,242.17 135.58,242.80 138.00,243.50 C140.42,244.20 143.90,245.23 145.90,245.70 C147.90,246.17 147.82,245.60 150.00,246.30 C152.18,247.00 156.67,248.53 159.00,249.90 C161.33,251.27 162.30,252.75 164.00,254.50 C165.70,256.25 167.00,258.50 169.20,260.40 C171.40,262.30 174.80,263.92 177.20,265.90 C179.60,267.88 182.00,269.75 183.60,272.30 C185.20,274.85 185.47,277.05 186.80,281.20 C188.13,285.35 189.73,291.07 191.60,297.20 C193.47,303.33 195.97,310.78 198.00,318.00 C200.03,325.22 202.83,336.75 203.80,340.50" fill="none" stroke="#f0625f" stroke-width="1.2" stroke-linejoin="round" stroke-linecap="round" />
<line x1="50.80" y1="317.60" x2="65.40" y2="317.60" stroke="#2a6ebb" stroke-width="1.0" />
<line x1="50.80" y1="329.30" x2="65.40" y2="329.30" stroke="#f0625f" stroke-width="1.0" />
<text x="69.40" y="320.90" font-size="9.25" text-anchor="start" font-weight="normal" fill="#231f20" >d.c. mode</text>
<text x="69.40" y="332.60" font-size="9.25" text-anchor="start" font-weight="normal" fill="#231f20" >Pulsed mode</text>
<text x="221.30" y="207.20" font-size="10" text-anchor="start" font-weight="bold" fill="#000" >e</text>
<line x1="261.60" y1="204.79" x2="261.60" y2="342.60" stroke="#6d6e71" stroke-width="0.75" />
<line x1="261.60" y1="342.60" x2="433.23" y2="342.60" stroke="#c4c4c4" stroke-width="1.1" />
<line x1="258.60" y1="342.40" x2="261.60" y2="342.40" stroke="#6d6e71" stroke-width="0.6" />
<line x1="259.80" y1="333.73" x2="261.60" y2="333.73" stroke="#6d6e71" stroke-width="0.6" />
<line x1="259.80" y1="328.66" x2="261.60" y2="328.66" stroke="#6d6e71" stroke-width="0.6" />
<line x1="259.80" y1="325.06" x2="261.60" y2="325.06" stroke="#6d6e71" stroke-width="0.6" />
<line x1="259.80" y1="322.27" x2="261.60" y2="322.27" stroke="#6d6e71" stroke-width="0.6" />
<line x1="259.80" y1="319.99" x2="261.60" y2="319.99" stroke="#6d6e71" stroke-width="0.6" />
<line x1="259.80" y1="318.06" x2="261.60" y2="318.06" stroke="#6d6e71" stroke-width="0.6" />
<line x1="259.80" y1="316.39" x2="261.60" y2="316.39" stroke="#6d6e71" stroke-width="0.6" />
<line x1="259.80" y1="314.92" x2="261.60" y2="314.92" stroke="#6d6e71" stroke-width="0.6" />
<line x1="258.60" y1="313.60" x2="261.60" y2="313.60" stroke="#6d6e71" stroke-width="0.6" />
<line x1="259.80" y1="304.93" x2="261.60" y2="304.93" stroke="#6d6e71" stroke-width="0.6" />
<line x1="259.80" y1="299.86" x2="261.60" y2="299.86" stroke="#6d6e71" stroke-width="0.6" />
<line x1="259.80" y1="296.26" x2="261.60" y2="296.26" stroke="#6d6e71" stroke-width="0.6" />
<line x1="259.80" y1="293.47" x2="261.60" y2="293.47" stroke="#6d6e71" stroke-width="0.6" />
<line x1="259.80" y1="291.19" x2="261.60" y2="291.19" stroke="#6d6e71" stroke-width="0.6" />
<line x1="259.80" y1="289.26" x2="261.60" y2="289.26" stroke="#6d6e71" stroke-width="0.6" />
<line x1="259.80" y1="287.59" x2="261.60" y2="287.59" stroke="#6d6e71" stroke-width="0.6" />
<line x1="259.80" y1="286.12" x2="261.60" y2="286.12" stroke="#6d6e71" stroke-width="0.6" />
<line x1="258.60" y1="284.80" x2="261.60" y2="284.80" stroke="#6d6e71" stroke-width="0.6" />
<line x1="259.80" y1="276.13" x2="261.60" y2="276.13" stroke="#6d6e71" stroke-width="0.6" />
<line x1="259.80" y1="271.06" x2="261.60" y2="271.06" stroke="#6d6e71" stroke-width="0.6" />
<line x1="259.80" y1="267.46" x2="261.60" y2="267.46" stroke="#6d6e71" stroke-width="0.6" />
<line x1="259.80" y1="264.67" x2="261.60" y2="264.67" stroke="#6d6e71" stroke-width="0.6" />
<line x1="259.80" y1="262.39" x2="261.60" y2="262.39" stroke="#6d6e71" stroke-width="0.6" />
<line x1="259.80" y1="260.46" x2="261.60" y2="260.46" stroke="#6d6e71" stroke-width="0.6" />
<line x1="259.80" y1="258.79" x2="261.60" y2="258.79" stroke="#6d6e71" stroke-width="0.6" />
<line x1="259.80" y1="257.32" x2="261.60" y2="257.32" stroke="#6d6e71" stroke-width="0.6" />
<line x1="258.60" y1="256.00" x2="261.60" y2="256.00" stroke="#6d6e71" stroke-width="0.6" />
<line x1="259.80" y1="247.33" x2="261.60" y2="247.33" stroke="#6d6e71" stroke-width="0.6" />
<line x1="259.80" y1="242.26" x2="261.60" y2="242.26" stroke="#6d6e71" stroke-width="0.6" />
<line x1="259.80" y1="238.66" x2="261.60" y2="238.66" stroke="#6d6e71" stroke-width="0.6" />
<line x1="259.80" y1="235.87" x2="261.60" y2="235.87" stroke="#6d6e71" stroke-width="0.6" />
<line x1="259.80" y1="233.59" x2="261.60" y2="233.59" stroke="#6d6e71" stroke-width="0.6" />
<line x1="259.80" y1="231.66" x2="261.60" y2="231.66" stroke="#6d6e71" stroke-width="0.6" />
<line x1="259.80" y1="229.99" x2="261.60" y2="229.99" stroke="#6d6e71" stroke-width="0.6" />
<line x1="259.80" y1="228.52" x2="261.60" y2="228.52" stroke="#6d6e71" stroke-width="0.6" />
<line x1="258.60" y1="227.20" x2="261.60" y2="227.20" stroke="#6d6e71" stroke-width="0.6" />
<line x1="259.80" y1="218.53" x2="261.60" y2="218.53" stroke="#6d6e71" stroke-width="0.6" />
<line x1="259.80" y1="213.46" x2="261.60" y2="213.46" stroke="#6d6e71" stroke-width="0.6" />
<line x1="259.80" y1="209.86" x2="261.60" y2="209.86" stroke="#6d6e71" stroke-width="0.6" />
<line x1="259.80" y1="207.07" x2="261.60" y2="207.07" stroke="#6d6e71" stroke-width="0.6" />
<line x1="259.80" y1="204.79" x2="261.60" y2="204.79" stroke="#6d6e71" stroke-width="0.6" />
<line x1="261.80" y1="342.60" x2="261.80" y2="345.20" stroke="#6d6e71" stroke-width="0.6" />
<line x1="273.01" y1="342.60" x2="273.01" y2="344.10" stroke="#6d6e71" stroke-width="0.6" />
<line x1="279.57" y1="342.60" x2="279.57" y2="344.10" stroke="#6d6e71" stroke-width="0.6" />
<line x1="284.23" y1="342.60" x2="284.23" y2="344.10" stroke="#6d6e71" stroke-width="0.6" />
<line x1="287.84" y1="342.60" x2="287.84" y2="344.10" stroke="#6d6e71" stroke-width="0.6" />
<line x1="290.79" y1="342.60" x2="290.79" y2="344.10" stroke="#6d6e71" stroke-width="0.6" />
<line x1="293.28" y1="342.60" x2="293.28" y2="344.10" stroke="#6d6e71" stroke-width="0.6" />
<line x1="295.44" y1="342.60" x2="295.44" y2="344.10" stroke="#6d6e71" stroke-width="0.6" />
<line x1="297.35" y1="342.60" x2="297.35" y2="344.10" stroke="#6d6e71" stroke-width="0.6" />
<line x1="299.05" y1="342.60" x2="299.05" y2="345.20" stroke="#6d6e71" stroke-width="0.6" />
<line x1="310.26" y1="342.60" x2="310.26" y2="344.10" stroke="#6d6e71" stroke-width="0.6" />
<line x1="316.82" y1="342.60" x2="316.82" y2="344.10" stroke="#6d6e71" stroke-width="0.6" />
<line x1="321.48" y1="342.60" x2="321.48" y2="344.10" stroke="#6d6e71" stroke-width="0.6" />
<line x1="325.09" y1="342.60" x2="325.09" y2="344.10" stroke="#6d6e71" stroke-width="0.6" />
<line x1="328.04" y1="342.60" x2="328.04" y2="344.10" stroke="#6d6e71" stroke-width="0.6" />
<line x1="330.53" y1="342.60" x2="330.53" y2="344.10" stroke="#6d6e71" stroke-width="0.6" />
<line x1="332.69" y1="342.60" x2="332.69" y2="344.10" stroke="#6d6e71" stroke-width="0.6" />
<line x1="334.60" y1="342.60" x2="334.60" y2="344.10" stroke="#6d6e71" stroke-width="0.6" />
<line x1="336.30" y1="342.60" x2="336.30" y2="345.20" stroke="#6d6e71" stroke-width="0.6" />
<line x1="347.51" y1="342.60" x2="347.51" y2="344.10" stroke="#6d6e71" stroke-width="0.6" />
<line x1="354.07" y1="342.60" x2="354.07" y2="344.10" stroke="#6d6e71" stroke-width="0.6" />
<line x1="358.73" y1="342.60" x2="358.73" y2="344.10" stroke="#6d6e71" stroke-width="0.6" />
<line x1="362.34" y1="342.60" x2="362.34" y2="344.10" stroke="#6d6e71" stroke-width="0.6" />
<line x1="365.29" y1="342.60" x2="365.29" y2="344.10" stroke="#6d6e71" stroke-width="0.6" />
<line x1="367.78" y1="342.60" x2="367.78" y2="344.10" stroke="#6d6e71" stroke-width="0.6" />
<line x1="369.94" y1="342.60" x2="369.94" y2="344.10" stroke="#6d6e71" stroke-width="0.6" />
<line x1="371.85" y1="342.60" x2="371.85" y2="344.10" stroke="#6d6e71" stroke-width="0.6" />
<line x1="373.55" y1="342.60" x2="373.55" y2="345.20" stroke="#6d6e71" stroke-width="0.6" />
<line x1="384.76" y1="342.60" x2="384.76" y2="344.10" stroke="#6d6e71" stroke-width="0.6" />
<line x1="391.32" y1="342.60" x2="391.32" y2="344.10" stroke="#6d6e71" stroke-width="0.6" />
<line x1="395.98" y1="342.60" x2="395.98" y2="344.10" stroke="#6d6e71" stroke-width="0.6" />
<line x1="399.59" y1="342.60" x2="399.59" y2="344.10" stroke="#6d6e71" stroke-width="0.6" />
<line x1="402.54" y1="342.60" x2="402.54" y2="344.10" stroke="#6d6e71" stroke-width="0.6" />
<line x1="405.03" y1="342.60" x2="405.03" y2="344.10" stroke="#6d6e71" stroke-width="0.6" />
<line x1="407.19" y1="342.60" x2="407.19" y2="344.10" stroke="#6d6e71" stroke-width="0.6" />
<line x1="409.10" y1="342.60" x2="409.10" y2="344.10" stroke="#6d6e71" stroke-width="0.6" />
<line x1="410.80" y1="342.60" x2="410.80" y2="345.20" stroke="#6d6e71" stroke-width="0.6" />
<line x1="422.01" y1="342.60" x2="422.01" y2="344.10" stroke="#6d6e71" stroke-width="0.6" />
<line x1="428.57" y1="342.60" x2="428.57" y2="344.10" stroke="#6d6e71" stroke-width="0.6" />
<line x1="433.23" y1="342.60" x2="433.23" y2="344.10" stroke="#6d6e71" stroke-width="0.6" />
<text x="254.40" y="345.20" font-size="9.25" text-anchor="end" font-weight="normal" fill="#231f20" >10<tspan dy="-3.1" font-size="6.2">0</tspan></text>
<text x="254.40" y="316.40" font-size="9.25" text-anchor="end" font-weight="normal" fill="#231f20" >10<tspan dy="-3.1" font-size="6.2">1</tspan></text>
<text x="254.40" y="287.60" font-size="9.25" text-anchor="end" font-weight="normal" fill="#231f20" >10<tspan dy="-3.1" font-size="6.2">2</tspan></text>
<text x="254.40" y="258.80" font-size="9.25" text-anchor="end" font-weight="normal" fill="#231f20" >10<tspan dy="-3.1" font-size="6.2">3</tspan></text>
<text x="254.40" y="230.00" font-size="9.25" text-anchor="end" font-weight="normal" fill="#231f20" >10<tspan dy="-3.1" font-size="6.2">4</tspan></text>
<text x="261.80" y="356.00" font-size="9.25" text-anchor="middle" font-weight="normal" fill="#231f20" >0.1</text>
<text x="299.05" y="356.00" font-size="9.25" text-anchor="middle" font-weight="normal" fill="#231f20" >1</text>
<text x="336.30" y="356.00" font-size="9.25" text-anchor="middle" font-weight="normal" fill="#231f20" >10</text>
<text x="373.55" y="356.00" font-size="9.25" text-anchor="middle" font-weight="normal" fill="#231f20" >100</text>
<text x="410.80" y="356.00" font-size="9.25" text-anchor="middle" font-weight="normal" fill="#231f20" >1,000</text>
<text x="346.20" y="371.50" font-size="9.25" text-anchor="middle" font-weight="normal" fill="#231f20" >Current density (A cm<tspan dy="-3.6" font-size="6.5">&#8722;2</tspan><tspan dy="3.6">)</tspan></text>
<text x="0.00" y="0.00" font-size="9.25" text-anchor="middle" font-weight="normal" fill="#231f20" transform="translate(231.7,274.9) rotate(-90)">Radiant exitance (mW cm<tspan dy="-3.6" font-size="6.5">&#8722;2</tspan><tspan dy="3.6">)</tspan></text>
<path d="M262.60,336.20 C262.60,336.20 264.40,340.00 264.40,340.00 C264.40,340.00 270.70,324.00 270.70,324.00 C270.70,324.00 274.57,320.28 276.60,318.00 C278.63,315.72 280.80,313.27 282.90,310.30 C285.00,307.33 286.88,303.48 289.20,300.20 C291.52,296.92 294.07,294.05 296.80,290.60 C299.53,287.15 302.90,282.60 305.60,279.50 C308.30,276.40 310.35,274.48 313.00,272.00 C315.65,269.52 319.17,266.45 321.50,264.60 C323.83,262.75 324.98,261.92 327.00,260.90 C329.02,259.88 331.77,258.73 333.60,258.50 C335.43,258.27 336.43,258.67 338.00,259.50 C339.57,260.33 341.25,261.72 343.00,263.50 C344.75,265.28 347.58,269.08 348.50,270.20" fill="none" stroke="#2a6ebb" stroke-width="1.5" stroke-linejoin="round" stroke-linecap="round" />
<path d="M321.50,264.60 C323.08,263.42 327.92,259.85 331.00,257.50 C334.08,255.15 336.32,253.33 340.00,250.50 C343.68,247.67 348.28,243.92 353.10,240.50 C357.92,237.08 364.08,232.97 368.90,230.00 C373.72,227.03 377.62,224.57 382.00,222.70 C386.38,220.83 391.13,219.95 395.20,218.80 C399.27,217.65 404.00,216.17 406.40,215.80 C408.80,215.43 408.30,215.88 409.60,216.60 C410.90,217.32 412.67,218.42 414.20,220.10 C415.73,221.78 417.37,224.83 418.80,226.70 C420.23,228.57 421.48,229.83 422.80,231.30 C424.12,232.77 426.05,234.80 426.70,235.50" fill="none" stroke="#f0625f" stroke-width="1.2" stroke-linejoin="round" stroke-linecap="round" />
<line x1="358.30" y1="317.60" x2="372.30" y2="317.60" stroke="#2a6ebb" stroke-width="1.0" />
<line x1="358.30" y1="329.30" x2="372.30" y2="329.30" stroke="#f0625f" stroke-width="1.0" />
<text x="376.20" y="320.80" font-size="9.6" text-anchor="start" font-weight="normal" fill="#231f20" >d.c. mode</text>
<text x="376.20" y="332.70" font-size="9.6" text-anchor="start" font-weight="normal" fill="#231f20" >Pulsed mode</text>
<text x="445.60" y="207.20" font-size="10" text-anchor="start" font-weight="bold" fill="#000" >f</text>
<circle cx="541.7" cy="217.4" r="2.2" fill="#2a6ebb"/>
<circle cx="541.7" cy="230.2" r="2.2" fill="#f0625f"/>
<text x="548.00" y="220.70" font-size="9.25" text-anchor="start" font-weight="normal" fill="#231f20" >Standard PeLED</text>
<text x="548.00" y="233.40" font-size="9.25" text-anchor="start" font-weight="normal" fill="#231f20" >Microcavity PeLED</text>
<line x1="478.40" y1="251.00" x2="478.40" y2="334.00" stroke="#6d6e71" stroke-width="0.75" />
<line x1="478.40" y1="334.00" x2="481.40" y2="334.00" stroke="#6d6e71" stroke-width="0.6" />
<text x="474.90" y="337.20" font-size="9.25" text-anchor="end" font-weight="normal" fill="#231f20" >0</text>
<line x1="478.40" y1="319.22" x2="481.40" y2="319.22" stroke="#6d6e71" stroke-width="0.6" />
<text x="474.90" y="322.42" font-size="9.25" text-anchor="end" font-weight="normal" fill="#231f20" >0.2</text>
<line x1="478.40" y1="304.44" x2="481.40" y2="304.44" stroke="#6d6e71" stroke-width="0.6" />
<text x="474.90" y="307.64" font-size="9.25" text-anchor="end" font-weight="normal" fill="#231f20" >0.4</text>
<line x1="478.40" y1="289.66" x2="481.40" y2="289.66" stroke="#6d6e71" stroke-width="0.6" />
<text x="474.90" y="292.86" font-size="9.25" text-anchor="end" font-weight="normal" fill="#231f20" >0.6</text>
<line x1="478.40" y1="274.88" x2="481.40" y2="274.88" stroke="#6d6e71" stroke-width="0.6" />
<text x="474.90" y="278.08" font-size="9.25" text-anchor="end" font-weight="normal" fill="#231f20" >0.8</text>
<line x1="478.40" y1="260.10" x2="481.40" y2="260.10" stroke="#6d6e71" stroke-width="0.6" />
<text x="474.90" y="263.30" font-size="9.25" text-anchor="end" font-weight="normal" fill="#231f20" >1.0</text>
<text x="0.00" y="0.00" font-size="9.25" text-anchor="middle" font-weight="normal" fill="#231f20" transform="translate(453.2,291.1) rotate(-90)">Norm. EL intensity (a.u.)</text>
<path d="M578.82,334.0 A7.48,7.48 0 0 1 593.78,334.0" fill="none" stroke="#d9d9d9" stroke-width="0.6"/>
<path d="M571.34,334.0 A14.96,14.96 0 0 1 601.26,334.0" fill="none" stroke="#d9d9d9" stroke-width="0.6"/>
<path d="M563.85,334.0 A22.45,22.45 0 0 1 608.75,334.0" fill="none" stroke="#d9d9d9" stroke-width="0.6"/>
<path d="M556.37,334.0 A29.93,29.93 0 0 1 616.23,334.0" fill="none" stroke="#d9d9d9" stroke-width="0.6"/>
<path d="M548.89,334.0 A37.41,37.41 0 0 1 623.71,334.0" fill="none" stroke="#d9d9d9" stroke-width="0.6"/>
<path d="M541.41,334.0 A44.89,44.89 0 0 1 631.19,334.0" fill="none" stroke="#d9d9d9" stroke-width="0.6"/>
<path d="M533.93,334.0 A52.37,52.37 0 0 1 638.67,334.0" fill="none" stroke="#d9d9d9" stroke-width="0.6"/>
<path d="M526.45,334.0 A59.85,59.85 0 0 1 646.15,334.0" fill="none" stroke="#d9d9d9" stroke-width="0.6"/>
<path d="M518.96,334.0 A67.34,67.34 0 0 1 653.64,334.0" fill="none" stroke="#d9d9d9" stroke-width="0.6"/>
<path d="M511.48,334.0 A74.82,74.82 0 0 1 661.12,334.0" fill="none" stroke="#d9d9d9" stroke-width="0.6"/>
<line x1="586.30" y1="334.00" x2="506.80" y2="312.70" stroke="#d9d9d9" stroke-width="0.6" />
<line x1="586.30" y1="334.00" x2="515.03" y2="292.85" stroke="#d9d9d9" stroke-width="0.6" />
<line x1="586.30" y1="334.00" x2="528.11" y2="275.81" stroke="#d9d9d9" stroke-width="0.6" />
<line x1="586.30" y1="334.00" x2="545.15" y2="262.73" stroke="#d9d9d9" stroke-width="0.6" />
<line x1="586.30" y1="334.00" x2="565.00" y2="254.50" stroke="#d9d9d9" stroke-width="0.6" />
<line x1="586.30" y1="334.00" x2="586.30" y2="251.70" stroke="#d9d9d9" stroke-width="0.6" />
<line x1="586.30" y1="334.00" x2="607.60" y2="254.50" stroke="#d9d9d9" stroke-width="0.6" />
<line x1="586.30" y1="334.00" x2="627.45" y2="262.73" stroke="#d9d9d9" stroke-width="0.6" />
<line x1="586.30" y1="334.00" x2="644.49" y2="275.81" stroke="#d9d9d9" stroke-width="0.6" />
<line x1="586.30" y1="334.00" x2="657.57" y2="292.85" stroke="#d9d9d9" stroke-width="0.6" />
<line x1="586.30" y1="334.00" x2="665.80" y2="312.70" stroke="#d9d9d9" stroke-width="0.6" />
<line x1="504.00" y1="334.00" x2="668.60" y2="334.00" stroke="#d9d9d9" stroke-width="0.8" />
<path d="M504.00,334.0 A82.30,82.30 0 0 1 668.60,334.0" fill="none" stroke="#555" stroke-width="0.8"/>
<line x1="504.00" y1="334.00" x2="505.60" y2="334.00" stroke="#555" stroke-width="0.6" />
<line x1="506.80" y1="312.70" x2="508.35" y2="313.11" stroke="#555" stroke-width="0.6" />
<line x1="515.03" y1="292.85" x2="516.41" y2="293.65" stroke="#555" stroke-width="0.6" />
<line x1="528.11" y1="275.81" x2="529.24" y2="276.94" stroke="#555" stroke-width="0.6" />
<line x1="545.15" y1="262.73" x2="545.95" y2="264.11" stroke="#555" stroke-width="0.6" />
<line x1="565.00" y1="254.50" x2="565.41" y2="256.05" stroke="#555" stroke-width="0.6" />
<line x1="586.30" y1="251.70" x2="586.30" y2="253.30" stroke="#555" stroke-width="0.6" />
<line x1="607.60" y1="254.50" x2="607.19" y2="256.05" stroke="#555" stroke-width="0.6" />
<line x1="627.45" y1="262.73" x2="626.65" y2="264.11" stroke="#555" stroke-width="0.6" />
<line x1="644.49" y1="275.81" x2="643.36" y2="276.94" stroke="#555" stroke-width="0.6" />
<line x1="657.57" y1="292.85" x2="656.19" y2="293.65" stroke="#555" stroke-width="0.6" />
<line x1="665.80" y1="312.70" x2="664.25" y2="313.11" stroke="#555" stroke-width="0.6" />
<line x1="668.60" y1="334.00" x2="667.00" y2="334.00" stroke="#555" stroke-width="0.6" />
<text x="586.20" y="249.20" font-size="9.25" text-anchor="middle" font-weight="normal" fill="#231f20" >0°</text>
<text x="627.80" y="260.60" font-size="9.25" text-anchor="start" font-weight="normal" fill="#231f20" >30°</text>
<text x="660.60" y="292.90" font-size="9.25" text-anchor="start" font-weight="normal" fill="#231f20" >60°</text>
<text x="671.30" y="336.50" font-size="9.25" text-anchor="start" font-weight="normal" fill="#231f20" >90°</text>
<text x="547.80" y="261.00" font-size="9.25" text-anchor="end" font-weight="normal" fill="#231f20" >&#8722;30°</text>
<text x="513.60" y="293.30" font-size="9.25" text-anchor="end" font-weight="normal" fill="#231f20" >&#8722;60°</text>
<text x="502.80" y="336.50" font-size="9.25" text-anchor="end" font-weight="normal" fill="#231f20" >&#8722;90°</text>
<text x="586.90" y="348.00" font-size="9.25" text-anchor="middle" font-weight="normal" fill="#231f20" >Emission angle</text>
<circle cx="586.3" cy="296.5" r="37.5" fill="none" stroke="#2a6ebb" stroke-width="1.1" stroke-dasharray="4.4,2.4"/>
<ellipse cx="586.3" cy="296.2" rx="16.4" ry="37.8" fill="none" stroke="#f0625f" stroke-width="1" stroke-dasharray="4.4,2.4"/>
<circle cx="574.00" cy="261.00" r="2" fill="#2a6ebb"/>
<circle cx="562.90" cy="269.30" r="2" fill="#2a6ebb"/>
<circle cx="553.70" cy="277.00" r="2" fill="#2a6ebb"/>
<circle cx="551.40" cy="292.80" r="2" fill="#2a6ebb"/>
<circle cx="549.00" cy="303.00" r="2" fill="#2a6ebb"/>
<circle cx="553.30" cy="314.50" r="2" fill="#2a6ebb"/>
<circle cx="562.90" cy="325.00" r="2" fill="#2a6ebb"/>
<circle cx="574.80" cy="331.80" r="2" fill="#2a6ebb"/>
<circle cx="599.30" cy="261.70" r="2" fill="#2a6ebb"/>
<circle cx="610.80" cy="266.90" r="2" fill="#2a6ebb"/>
<circle cx="619.30" cy="277.20" r="2" fill="#2a6ebb"/>
<circle cx="622.70" cy="291.10" r="2" fill="#2a6ebb"/>
<circle cx="622.00" cy="304.40" r="2" fill="#2a6ebb"/>
<circle cx="621.00" cy="313.80" r="2" fill="#2a6ebb"/>
<circle cx="609.00" cy="325.40" r="2" fill="#2a6ebb"/>
<circle cx="596.20" cy="331.80" r="2" fill="#2a6ebb"/>
<circle cx="586.30" cy="258.70" r="2" fill="#f0625f"/>
<circle cx="575.50" cy="272.60" r="2" fill="#f0625f"/>
<circle cx="596.80" cy="274.20" r="2" fill="#f0625f"/>
<circle cx="570.70" cy="291.20" r="2" fill="#f0625f"/>
<circle cx="603.20" cy="288.00" r="2" fill="#f0625f"/>
<circle cx="571.50" cy="308.10" r="2" fill="#f0625f"/>
<circle cx="596.30" cy="317.20" r="2" fill="#f0625f"/>
<circle cx="580.70" cy="326.70" r="2" fill="#f0625f"/>
<circle cx="581.00" cy="329.00" r="2" fill="#f0625f"/>
<circle cx="583.30" cy="331.70" r="2" fill="#f0625f"/>
<circle cx="586.70" cy="333.70" r="2" fill="#f0625f"/>
<circle cx="590.00" cy="331.70" r="2" fill="#f0625f"/>
<circle cx="592.00" cy="328.30" r="2" fill="#f0625f"/>
<circle cx="592.70" cy="326.30" r="2" fill="#f0625f"/>
</svg>
</body></html>
